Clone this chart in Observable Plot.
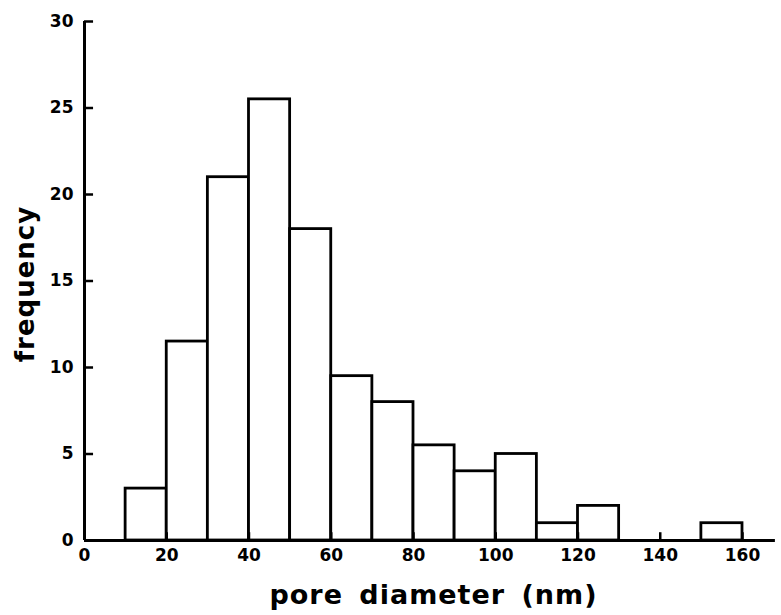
<!DOCTYPE html>
<html>
<head>
<meta charset="utf-8">
<script src="https://cdn.jsdelivr.net/npm/d3@7"></script>
<script src="https://cdn.jsdelivr.net/npm/@observablehq/plot@0.6"></script>
<style>
  html, body { margin: 0; padding: 0; background: #fff; }
  svg { display: block; }
</style>
</head>
<body>
<div id="chart"></div>
<script>
// Histogram bins (pore diameter, nm) and frequencies
const binStart = [10, 20, 30, 40, 50, 60, 70, 80, 90, 100, 110, 120, 130, 140, 150];
const binEnd   = [20, 30, 40, 50, 60, 70, 80, 90, 100, 110, 120, 130, 140, 150, 160];
const frequency = [3, 11.5, 21, 25.5, 18, 9.5, 8, 5.5, 4, 5, 1, 2, 0, 0, 1];

const xTicks = [0, 20, 40, 60, 80, 100, 120, 140, 160];
const yTicks = [0, 5, 10, 15, 20, 25, 30];
const xTitle = "pore diameter (nm)";
const yTitle = "frequency";

const bins = binStart.map((s, i) => ({x1: s, x2: binEnd[i], y: frequency[i]}));

const font = "DejaVu Sans, sans-serif";

const chart = Plot.plot({
  width: 781,
  height: 615,
  marginTop: 21,
  marginBottom: 75,
  marginLeft: 84,
  marginRight: 39,
  style: {fontFamily: font, background: "#fff", color: "#000"},
  x: {domain: [0, 160]},
  y: {domain: [0, 30]},
  marks: [
    Plot.rectY(bins.filter(d => d.y > 0), {x1: "x1", x2: "x2", y: "y", fill: "white", stroke: "black", strokeWidth: 2.8}),
    // axis lines
    Plot.ruleX([0], {y1: 0, y2: 30, stroke: "black", strokeWidth: 3}),
    Plot.ruleY([0], {x1: 0, x2: 168, stroke: "black", strokeWidth: 3}),
    // inward ticks
    Plot.ruleY(yTicks.slice(1), {x1: 0, x2: 2.2, stroke: "black", strokeWidth: 2.5}),
    Plot.ruleX(xTicks.slice(1), {y1: 0, y2: 0.45, stroke: "black", strokeWidth: 2.5}),
    // tick labels
    Plot.axisX(xTicks, {tickSize: 0, tickPadding: 8, fontSize: 17, fontWeight: "bold", label: null}),
    Plot.axisY(yTicks, {tickSize: 0, tickPadding: 11, fontSize: 17, fontWeight: "bold", label: null}),
    // axis titles
    Plot.text([xTitle], {frameAnchor: "bottom", textAnchor: "middle", lineAnchor: "bottom", dx: 20, dy: 63, fontSize: 27, fontWeight: "bold", text: d => d}),
    Plot.text([yTitle], {frameAnchor: "left", textAnchor: "middle", lineAnchor: "middle", dx: -59, dy: 3, rotate: -90, fontSize: 26, fontWeight: "bold", text: d => d})
  ]
});
d3.select(chart).selectAll("text").filter(function() { return this.textContent === xTitle || this.textContent === yTitle; })
  .style("letter-spacing", "1px").style("word-spacing", "6px");
document.getElementById("chart").appendChild(chart);
</script>
</body>
</html>
